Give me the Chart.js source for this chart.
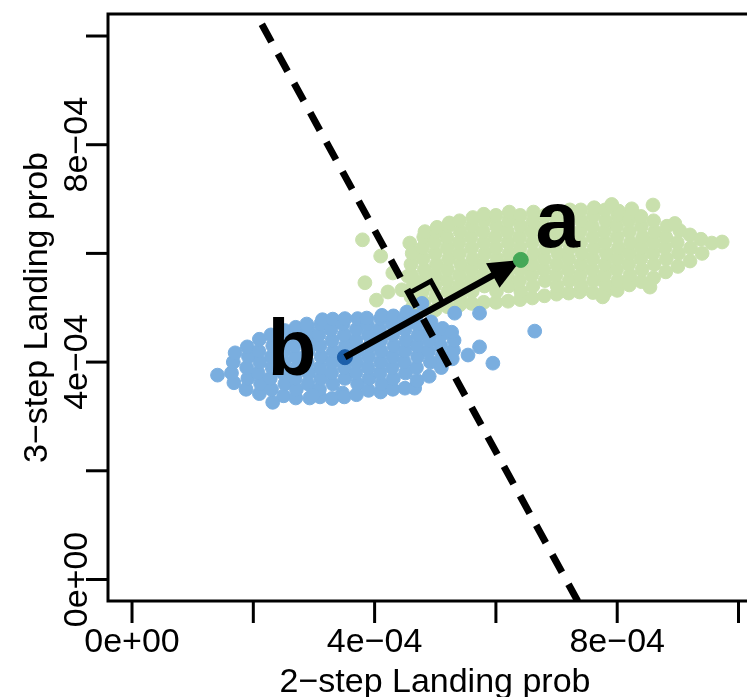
<!doctype html>
<html lang="en">
<head>
<meta charset="utf-8">
<title>Landing prob</title>
<script src="https://cdn.jsdelivr.net/npm/chart.js@4.4.1/dist/chart.umd.min.js"></script>
<style>
    html, body { margin: 0; padding: 0; background: #fff; }
    #wrap { width: 747px; height: 697px; }
</style>
</head>
<body>
<div id="wrap"><canvas id="landing" width="747" height="697"></canvas></div>
<script>
// all values are in units of 1e-4
const tickValues = [0, 2, 4, 6, 8, 10];
const tickLabels = ['0e+00', '', '4e\u221204', '', '8e\u221204', ''];
const xTitle = '2\u2212step Landing prob';
const yTitle = '3\u2212step Landing prob';

// centroids: b (blue group) and a (green group)
const centreB = [3.51, 4.09];
const centreA = [6.41, 5.88];
// dashed separating line, end points
const splitLine = [[2.05, 10.40], [7.35, -0.40]];

const blueCloud = [
    [1.41,3.76],
    [1.68,3.62],[1.64,3.80],[1.67,4.00],[1.70,4.17],
    [1.88,3.50],[1.91,3.70],[1.89,3.90],[1.92,4.10],[1.90,4.28],
    [2.10,3.42],[2.12,3.60],[2.08,3.80],[2.11,4.00],[2.09,4.20],[2.10,4.42],
    [2.32,3.26],[2.30,3.50],[2.28,3.70],[2.31,3.90],[2.30,4.10],[2.32,4.30],[2.29,4.50],
    [2.50,3.38],[2.52,3.60],[2.49,3.80],[2.51,4.00],[2.50,4.20],[2.48,4.40],[2.52,4.58],
    [2.70,3.34],[2.71,3.50],[2.69,3.70],[2.72,3.90],[2.70,4.10],[2.68,4.30],[2.71,4.50],[2.70,4.64],
    [2.93,3.34],[2.90,3.60],[2.91,3.80],[2.89,4.00],[2.90,4.20],[2.92,4.40],[2.90,4.60],[2.88,4.70],
    [3.10,3.36],[3.09,3.50],[3.11,3.70],[3.10,3.90],[3.12,4.10],[3.10,4.30],[3.08,4.50],[3.11,4.70],[3.14,4.78],
    [3.30,3.33],[3.31,3.60],[3.29,3.80],[3.30,4.00],[3.32,4.20],[3.30,4.40],[3.28,4.60],[3.31,4.79],
    [3.47,3.43],[3.50,3.36],[3.51,3.70],[3.50,3.90],[3.49,4.10],[3.52,4.30],[3.50,4.50],[3.48,4.70],[3.51,4.80],
    [3.70,3.40],[3.72,3.60],[3.69,3.80],[3.70,4.00],[3.71,4.20],[3.69,4.40],[3.70,4.60],[3.72,4.80],
    [3.90,3.48],[3.91,3.70],[3.89,3.90],[3.90,4.10],[3.92,4.30],[3.90,4.50],[3.88,4.70],[3.87,4.81],
    [4.10,3.45],[4.12,3.60],[4.09,3.80],[4.10,4.00],[4.11,4.20],[4.10,4.40],[4.08,4.60],[4.10,4.80],[4.12,4.86],
    [4.30,3.50],[4.31,3.70],[4.29,3.90],[4.30,4.10],[4.32,4.30],[4.30,4.50],[4.29,4.70],[4.31,4.85],
    [4.50,3.52],[4.66,3.52],[4.51,3.80],[4.49,4.00],[4.50,4.20],[4.52,4.40],[4.50,4.60],[4.49,4.80],[4.53,4.92],
    [4.70,3.66],[4.69,3.90],[4.71,4.10],[4.70,4.30],[4.72,4.50],[4.70,4.70],[4.68,4.84],
    [4.90,3.74],[4.92,4.00],[4.89,4.20],[4.90,4.40],[4.91,4.60],[4.93,4.74],
    [5.10,3.90],[5.11,4.10],[5.09,4.30],[5.10,4.50],[5.12,4.62],
    [5.28,4.06],[5.30,4.22],[5.31,4.40],[5.27,4.55],
    [5.54,4.13],[5.73,4.28],[5.95,3.98],[5.32,4.90],[5.73,4.90],[6.64,4.57],[4.78,5.08],[2.98,3.39]
];

const greenCloud = [
    [3.80,6.25],[4.10,5.95],[3.84,5.46],[4.03,5.14],[4.22,5.29],[4.45,5.33],[4.55,5.58],[4.30,5.64],[4.58,6.19],
    [4.62,5.00],[4.60,5.20],[4.63,5.40],[4.61,5.60],[4.60,5.80],[4.62,6.00],
    [4.80,4.97],[4.81,5.10],[4.79,5.30],[4.80,5.50],[4.82,5.70],[4.80,5.90],[4.79,6.10],[4.81,6.30],[4.83,6.40],
    [5.00,4.96],[5.01,5.20],[4.99,5.40],[5.00,5.60],[5.02,5.80],[5.00,6.00],[4.99,6.20],[5.01,6.40],[5.03,6.48],
    [5.20,5.02],[5.21,5.30],[5.19,5.50],[5.20,5.70],[5.22,5.90],[5.20,6.10],[5.19,6.30],[5.21,6.50],[5.23,6.56],
    [5.40,5.05],[5.41,5.20],[5.39,5.40],[5.40,5.60],[5.42,5.80],[5.40,6.00],[5.39,6.20],[5.41,6.40],[5.40,6.60],
    [5.60,5.08],[5.61,5.30],[5.59,5.50],[5.60,5.70],[5.62,5.90],[5.60,6.10],[5.59,6.30],[5.61,6.50],[5.62,6.66],
    [5.80,5.10],[5.81,5.40],[5.79,5.60],[5.80,5.80],[5.82,6.00],[5.80,6.20],[5.79,6.40],[5.81,6.60],[5.80,6.72],
    [6.00,5.10],[6.01,5.30],[5.99,5.50],[6.00,5.70],[6.02,5.90],[6.00,6.10],[5.99,6.30],[6.01,6.50],[6.00,6.70],
    [6.20,5.12],[6.21,5.40],[6.19,5.60],[6.20,5.80],[6.22,6.00],[6.20,6.20],[6.19,6.40],[6.21,6.60],[6.22,6.76],
    [6.40,5.15],[6.41,5.30],[6.39,5.50],[6.40,5.70],[6.42,5.90],[6.40,6.10],[6.39,6.30],[6.41,6.50],[6.40,6.70],
    [6.60,5.18],[6.61,5.40],[6.59,5.60],[6.60,5.80],[6.62,6.00],[6.60,6.20],[6.59,6.40],[6.61,6.60],[6.62,6.76],
    [6.80,5.22],[6.81,5.50],[6.79,5.70],[6.80,5.90],[6.82,6.10],[6.80,6.30],[6.79,6.50],[6.81,6.70],
    [7.00,5.25],[7.01,5.40],[6.99,5.60],[7.00,5.80],[7.02,6.00],[7.00,6.20],[6.99,6.40],[7.01,6.60],[7.02,6.76],
    [7.20,5.27],[7.21,5.50],[7.19,5.70],[7.20,5.90],[7.22,6.10],[7.20,6.30],[7.19,6.50],[7.21,6.70],[7.22,6.80],
    [7.38,5.29],[7.41,5.40],[7.39,5.60],[7.40,5.80],[7.42,6.00],[7.40,6.20],[7.39,6.40],[7.41,6.60],[7.40,6.80],
    [7.60,5.28],[7.61,5.50],[7.59,5.70],[7.60,5.90],[7.62,6.10],[7.60,6.30],[7.59,6.50],[7.61,6.70],[7.62,6.84],
    [7.80,5.28],[7.81,5.42],[7.79,5.60],[7.80,5.80],[7.82,6.00],[7.80,6.20],[7.79,6.40],[7.81,6.60],[7.80,6.80],
    [8.00,5.32],[8.01,5.50],[7.99,5.70],[8.00,5.90],[8.02,6.10],[8.00,6.30],[7.99,6.50],[8.01,6.70],[8.02,6.78],
    [8.20,5.42],[8.21,5.60],[8.19,5.80],[8.20,6.00],[8.22,6.20],[8.20,6.40],[8.19,6.60],[8.21,6.74],
    [8.40,5.48],[8.41,5.70],[8.39,5.90],[8.40,6.10],[8.42,6.30],[8.40,6.50],[8.39,6.68],
    [8.60,5.55],[8.61,5.80],[8.59,6.00],[8.60,6.20],[8.62,6.40],[8.60,6.60],
    [8.80,5.66],[8.81,5.90],[8.79,6.10],[8.80,6.30],[8.82,6.50],
    [9.00,5.76],[9.01,6.00],[8.99,6.20],[9.03,6.42],
    [9.20,5.86],[9.21,6.10],[9.20,6.34],
    [9.40,6.00],[9.38,6.26],
    [8.59,6.89],[7.91,6.90],[8.24,6.82],[9.56,6.19],[9.73,6.21],[8.54,5.38],[7.76,5.20],[8.95,6.55]
];

const blueColour = '#7AAEDF';
const greenColour = '#C9E0AD';

const toXY = pts => pts.map(p => ({x: p[0], y: p[1]}));

const FONT = '"Liberation Sans", Arial, Helvetica, sans-serif';

const decorations = {
    id: 'decorations',
    afterDatasetDraw(chart, args) {
        if (args.index !== 1) return; // after b's dot, before a's dot
        const ctx = chart.ctx;
        const xs = chart.scales.x, ys = chart.scales.y;
        const bx = xs.getPixelForValue(centreB[0]), by = ys.getPixelForValue(centreB[1]);
        const ax = xs.getPixelForValue(centreA[0]), ay = ys.getPixelForValue(centreA[1]);
        const len = Math.hypot(ax - bx, ay - by);
        const ux = (ax - bx) / len, uy = (ay - by) / len;
        const head = 32, half = 14;
        ctx.save();
        ctx.strokeStyle = '#000';
        ctx.fillStyle = '#000';
        ctx.lineWidth = 6.5;
        ctx.lineCap = 'butt';
        ctx.beginPath();
        ctx.moveTo(bx, by);
        ctx.lineTo(ax - ux * head * 0.8, ay - uy * head * 0.8);
        ctx.stroke();
        const cx = ax - ux * head, cy = ay - uy * head;
        ctx.beginPath();
        ctx.moveTo(ax, ay);
        ctx.lineTo(cx - uy * half, cy + ux * half);
        ctx.lineTo(cx + uy * half, cy - ux * half);
        ctx.closePath();
        ctx.fill();

        // right angle mark where the arrow crosses the dashed line
        const p1x = xs.getPixelForValue(splitLine[0][0]), p1y = ys.getPixelForValue(splitLine[0][1]);
        const p2x = xs.getPixelForValue(splitLine[1][0]), p2y = ys.getPixelForValue(splitLine[1][1]);
        const dx = p2x - p1x, dy = p2y - p1y;
        const den = ux * dy - uy * dx;
        const t = ((p1x - bx) * dy - (p1y - by) * dx) / den;
        const ix = bx + ux * t, iy = by + uy * t;
        const dl = Math.hypot(dx, dy);
        const vx = -dx / dl, vy = -dy / dl; // toward top of dashed line
        const s = 25;
        ctx.lineWidth = 5;
        ctx.lineJoin = 'miter';
        ctx.beginPath();
        ctx.moveTo(ix + vx * s, iy + vy * s);
        ctx.lineTo(ix + vx * s + ux * s, iy + vy * s + uy * s);
        ctx.lineTo(ix + ux * s, iy + uy * s);
        ctx.stroke();
        ctx.restore();
    },
    afterDraw(chart) {
        const ctx = chart.ctx;
        const area = chart.chartArea;
        const xs = chart.scales.x, ys = chart.scales.y;
        ctx.save();
        ctx.strokeStyle = '#000';
        ctx.fillStyle = '#000';
        ctx.lineWidth = 3;
        // plot box (right side runs off the page)
        ctx.strokeRect(area.left, area.top, area.right - area.left + 30, area.bottom - area.top);

        ctx.font = '34px ' + FONT;
        ctx.textAlign = 'center';
        ctx.textBaseline = 'alphabetic';
        tickValues.forEach((v, i) => {
            const px = xs.getPixelForValue(v);
            ctx.beginPath();
            ctx.moveTo(px, area.bottom);
            ctx.lineTo(px, area.bottom + 22);
            ctx.stroke();
            if (tickLabels[i]) ctx.fillText(tickLabels[i], px, area.bottom + 51);

            const py = ys.getPixelForValue(v);
            ctx.beginPath();
            ctx.moveTo(area.left, py);
            ctx.lineTo(area.left - 22, py);
            ctx.stroke();
            if (tickLabels[i]) {
                ctx.save();
                ctx.translate(area.left - 21, py);
                ctx.rotate(-Math.PI / 2);
                ctx.fillText(tickLabels[i], 0, 0);
                ctx.restore();
            }
        });

        // axis titles
        ctx.fillText(xTitle, area.left + 327, area.bottom + 91);
        ctx.save();
        ctx.translate(area.left - 61, (area.top + area.bottom) / 2);
        ctx.rotate(-Math.PI / 2);
        ctx.fillText(yTitle, 0, 0);
        ctx.restore();

        // group letters
        ctx.font = 'bold 80px ' + FONT;
        const bx = xs.getPixelForValue(centreB[0]), by = ys.getPixelForValue(centreB[1]);
        const ax = xs.getPixelForValue(centreA[0]), ay = ys.getPixelForValue(centreA[1]);
        ctx.fillText('b', bx - 53, by + 18);
        ctx.fillText('a', ax + 37, ay - 13);
        ctx.restore();
    }
};

new Chart(document.getElementById('landing'), {
    type: 'scatter',
    data: {
        datasets: [
            {
                label: 'a',
                data: toXY([centreA]),
                backgroundColor: '#45A857',
                borderColor: '#45A857',
                pointBorderWidth: 1,
                pointRadius: 7.5,
                order: 0
            },
            {
                label: 'b',
                data: toXY([centreB]),
                backgroundColor: '#1C5FAA',
                borderColor: '#1C5FAA',
                pointBorderWidth: 1,
                pointRadius: 7.5,
                order: 1
            },
            {
                type: 'line',
                label: 'split',
                data: toXY(splitLine),
                borderColor: '#000',
                borderWidth: 7,
                borderDash: [20, 13.6],
                borderDashOffset: 22.2,
                borderCapStyle: 'butt',
                pointRadius: 0,
                fill: false,
                clip: 0,
                order: 2
            },
            {
                label: 'blue',
                data: toXY(blueCloud),
                backgroundColor: blueColour,
                borderColor: blueColour,
                pointBorderWidth: 1,
                pointRadius: 6.9,
                order: 3
            },
            {
                label: 'green',
                data: toXY(greenCloud),
                backgroundColor: greenColour,
                borderColor: greenColour,
                pointBorderWidth: 1,
                pointRadius: 6.9,
                order: 4
            }
        ]
    },
    options: {
        responsive: false,
        animation: false,
        events: [],
        layout: { autoPadding: false, padding: { left: 108, top: 14, right: 0, bottom: 96 } },
        plugins: {
            legend: { display: false },
            tooltip: { enabled: false }
        },
        scales: {
            x: { type: 'linear', min: -0.396, max: 10.14, display: false },
            y: { type: 'linear', min: -0.396, max: 10.405, display: false }
        }
    },
    plugins: [decorations]
});
</script>
</body>
</html>
